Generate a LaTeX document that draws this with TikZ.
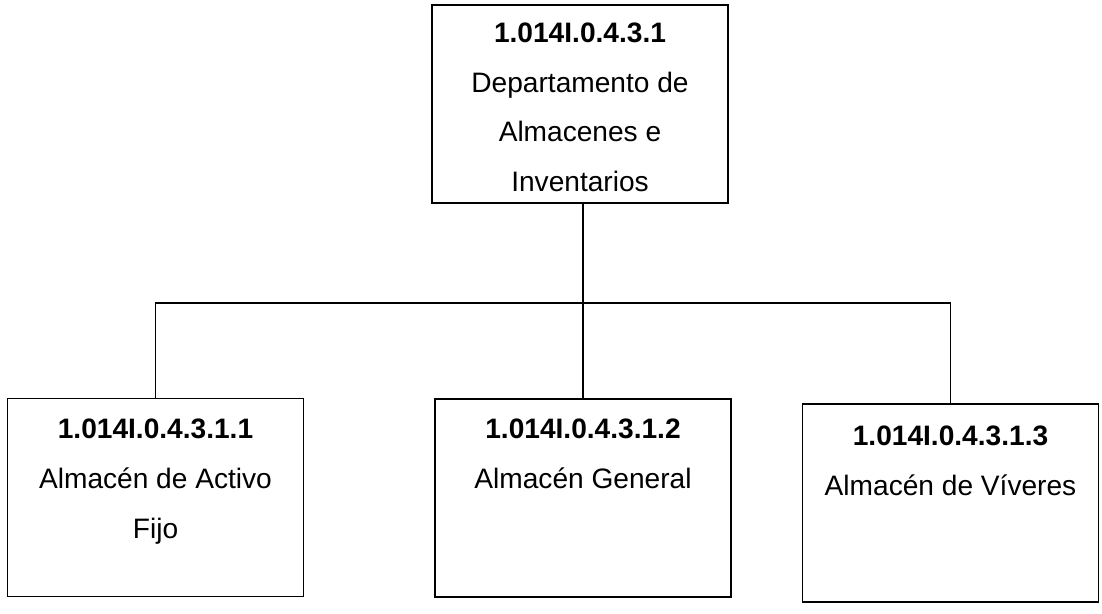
\documentclass[tikz,border=0pt]{standalone}
\usepackage{fontspec}
\setmainfont{Liberation Sans}
\usepackage{tikz}

\newcommand{\cajatexto}[2]{\parbox[c][3.96cm][t]{5.92cm}{\centering\rule{0pt}{#1}#2}}

\begin{document}
\begin{tikzpicture}
  [x=0.02cm,y=-0.02cm,every node/.style={draw,line width=1pt,inner sep=0pt,font=\fontsize{16}{28.45}\selectfont}]
  \useasboundingbox (0,0) rectangle (1102,613);
  \node (dep) at (580,104)    {\cajatexto{0.74cm}{\textbf{1.014I.0.4.3.1}\\Departamento de\\Almacenes e\\Inventarios}};
  \node (a1) at (155.5,497.5) {\cajatexto{0.80cm}{\textbf{1.014I.0.4.3.1.1}\\Almac\'en de Activo\\Fijo}};
  \node (a2) at (583,498)     {\cajatexto{0.78cm}{\textbf{1.014I.0.4.3.1.2}\\Almac\'en General}};
  \node (a3) at (950.5,503)   {\cajatexto{0.82cm}{\textbf{1.014I.0.4.3.1.3}\\Almac\'en de V\'iveres}};
  \coordinate (bus) at (583,303);

  \draw[line width=0.8pt] (dep.south -| bus) -- (a2.north);
  \foreach \to in {a1,a3}
    \draw[line width=0.8pt] (bus) -| (\to.north);
\end{tikzpicture}
\end{document}
